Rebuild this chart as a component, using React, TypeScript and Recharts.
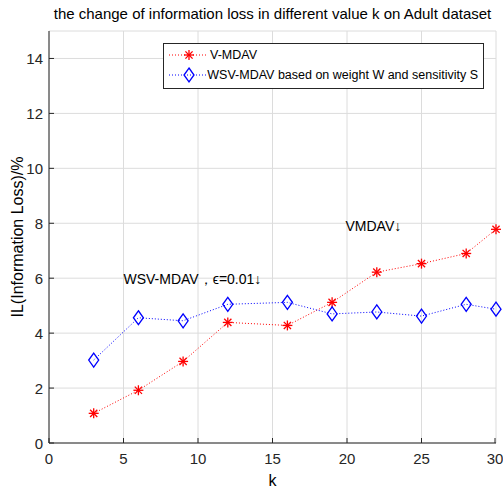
import React from "react";
import { LineChart, Line, XAxis, YAxis, CartesianGrid, Legend, ReferenceDot } from "recharts";

// k values and information loss (%)
const kValues = [3, 6, 9, 12, 16, 19, 22, 25, 28, 30];
const vmdav = [1.08, 1.92, 2.97, 4.39, 4.28, 5.12, 6.22, 6.53, 6.9, 7.78];
const wsvmdav = [3.02, 4.56, 4.45, 5.05, 5.12, 4.7, 4.77, 4.62, 5.05, 4.87];
const xTicks = [0, 5, 10, 15, 20, 25, 30];
const yTicks = [0, 2, 4, 6, 8, 10, 12, 14];

const titleText = "the change of information loss in different value k on Adult dataset";
const vmdavName = "V-MDAV";
const wsvName = "WSV-MDAV based on weight W and sensitivity S";
const noteVmdav = { k: 19.9, v: 7.72, text: "VMDAV\u2193" };
const noteWsv = { k: 5.0, v: 5.78, text: "WSV-MDAV\uFF0C\u03F5=0.01\u2193" };

const data = kValues.map((k, i) => ({ k, vmdav: vmdav[i], wsv: wsvmdav[i] }));

const FONT = "'Liberation Sans', Arial, sans-serif";
const RED = "#ff0000";
const BLUE = "#0000ff";

const Star = (props: any) => {
  const { cx, cy } = props;
  if (cx == null || cy == null) return null;
  const r = 5;
  const d = r * 0.72;
  return (
    <g stroke={RED} strokeWidth={1.3}>
      <line x1={cx - r} y1={cy} x2={cx + r} y2={cy} />
      <line x1={cx} y1={cy - r} x2={cx} y2={cy + r} />
      <line x1={cx - d} y1={cy - d} x2={cx + d} y2={cy + d} />
      <line x1={cx - d} y1={cy + d} x2={cx + d} y2={cy - d} />
    </g>
  );
};

const Diamond = (props: any) => {
  const { cx, cy } = props;
  if (cx == null || cy == null) return null;
  return (
    <path
      d={`M${cx},${cy - 7} L${cx + 5},${cy} L${cx},${cy + 7} L${cx - 5},${cy} Z`}
      fill="none"
      stroke={BLUE}
      strokeWidth={1.3}
    />
  );
};

const BottomTick = (props: any) => {
  const { x, y, payload } = props;
  return (
    <g>
      <line x1={x} y1={y} x2={x} y2={y - 5} stroke="#262626" />
      <text x={x} y={y + 21} textAnchor="middle" fontSize={15} fontFamily={FONT} fill="#262626">
        {payload.value}
      </text>
    </g>
  );
};

const TopTick = (props: any) => {
  const { x, y } = props;
  return <line x1={x} y1={y} x2={x} y2={y + 5} stroke="#262626" />;
};

const LeftTick = (props: any) => {
  const { x, y, payload } = props;
  return (
    <g>
      <line x1={x} y1={y} x2={x + 5} y2={y} stroke="#262626" />
      <text x={x - 6} y={y + 5.5} textAnchor="end" fontSize={15} fontFamily={FONT} fill="#262626">
        {payload.value}
      </text>
    </g>
  );
};

const RightTick = (props: any) => {
  const { x, y } = props;
  return <line x1={x} y1={y} x2={x - 5} y2={y} stroke="#262626" />;
};

const LegendBox = () => (
  <div
    style={{
      border: "1px solid #262626",
      background: "#fff",
      fontFamily: FONT,
      fontSize: 12.5,
      color: "#000",
      padding: "1px 5px 3px 4px",
      lineHeight: "20px",
      width: 310,
    }}
  >
    {[
      { name: vmdavName, color: RED, Marker: Star },
      { name: wsvName, color: BLUE, Marker: Diamond },
    ].map(({ name, color, Marker }) => (
      <div key={name} style={{ display: "flex", alignItems: "center", height: 20 }}>
        <svg width={42} height={20} style={{ marginRight: 0 }}>
          <line x1={1} y1={10} x2={40} y2={10} stroke={color} strokeDasharray="1 2" />
          <Marker cx={21} cy={10} />
        </svg>
        <span style={{ whiteSpace: "nowrap" }}>{name}</span>
      </div>
    ))}
  </div>
);

const noteLabel = (text: string) => (props: any) => {
  const { viewBox } = props;
  return (
    <text x={viewBox.x} y={viewBox.y} fontSize={14} fontFamily={FONT} fill="#000">
      {text}
    </text>
  );
};

export default function App() {
  return (
    <div style={{ position: "absolute", left: 0, top: 0, width: 503, height: 490, background: "#fff" }}>
      <div
        style={{
          position: "absolute",
          left: 49,
          width: 447,
          top: 5,
          textAlign: "center",
          fontFamily: FONT,
          fontSize: 15,
          color: "#000",
          whiteSpace: "nowrap",
        }}
      >
        {titleText}
      </div>
      <LineChart width={503} height={490} data={data} margin={{ top: 31, right: 7, left: 0, bottom: 0 }}>
        <CartesianGrid stroke="#dcdcdc" strokeWidth={1} xAxisId="bottom" yAxisId="left" />
        <XAxis
          xAxisId="bottom"
          dataKey="k"
          type="number"
          domain={[0, 30]}
          ticks={xTicks}
          height={47}
          tickSize={0}
          tickMargin={0}
          tick={<BottomTick />}
          axisLine={{ stroke: "#262626" }}
          label={{ value: "k", position: "insideBottom", offset: 4, fontSize: 16, fontFamily: FONT, fill: "#000" }}
        />
        <XAxis
          xAxisId="top"
          dataKey="k"
          type="number"
          orientation="top"
          domain={[0, 30]}
          ticks={xTicks}
          height={0}
          tickSize={0}
          tickMargin={0}
          tick={<TopTick />}
          axisLine={{ stroke: "#262626" }}
        />
        <YAxis
          yAxisId="left"
          type="number"
          domain={[0, 15]}
          ticks={yTicks}
          width={49}
          tickSize={0}
          tickMargin={0}
          tick={<LeftTick />}
          axisLine={{ stroke: "#262626" }}
          label={{
            value: "IL(Information Loss)/%",
            angle: -90,
            position: "insideLeft",
            offset: 17,
            style: { textAnchor: "middle" },
            fontSize: 16,
            fontFamily: FONT,
            fill: "#000",
          }}
        />
        <YAxis
          yAxisId="right"
          orientation="right"
          type="number"
          domain={[0, 15]}
          ticks={yTicks}
          width={0}
          tickSize={0}
          tickMargin={0}
          tick={<RightTick />}
          axisLine={{ stroke: "#262626" }}
        />
        <Legend
          layout="vertical"
          verticalAlign="middle"
          align="center"
          wrapperStyle={{ top: 43, left: 163, width: "auto" }}
          content={<LegendBox />}
        />
        <Line
          xAxisId="bottom"
          yAxisId="left"
          dataKey="vmdav"
          name={vmdavName}
          stroke={RED}
          strokeWidth={1}
          strokeDasharray="1 2"
          dot={<Star />}
          activeDot={false}
          isAnimationActive={false}
        />
        <Line
          xAxisId="bottom"
          yAxisId="left"
          dataKey="wsv"
          name={wsvName}
          stroke={BLUE}
          strokeWidth={1}
          strokeDasharray="1 2"
          dot={<Diamond />}
          activeDot={false}
          isAnimationActive={false}
        />
        <ReferenceDot
          xAxisId="bottom"
          yAxisId="left"
          x={noteVmdav.k}
          y={noteVmdav.v}
          r={0}
          label={noteLabel(noteVmdav.text)}
        />
        <ReferenceDot
          xAxisId="bottom"
          yAxisId="left"
          x={noteWsv.k}
          y={noteWsv.v}
          r={0}
          label={noteLabel(noteWsv.text)}
        />
      </LineChart>
    </div>
  );
}
